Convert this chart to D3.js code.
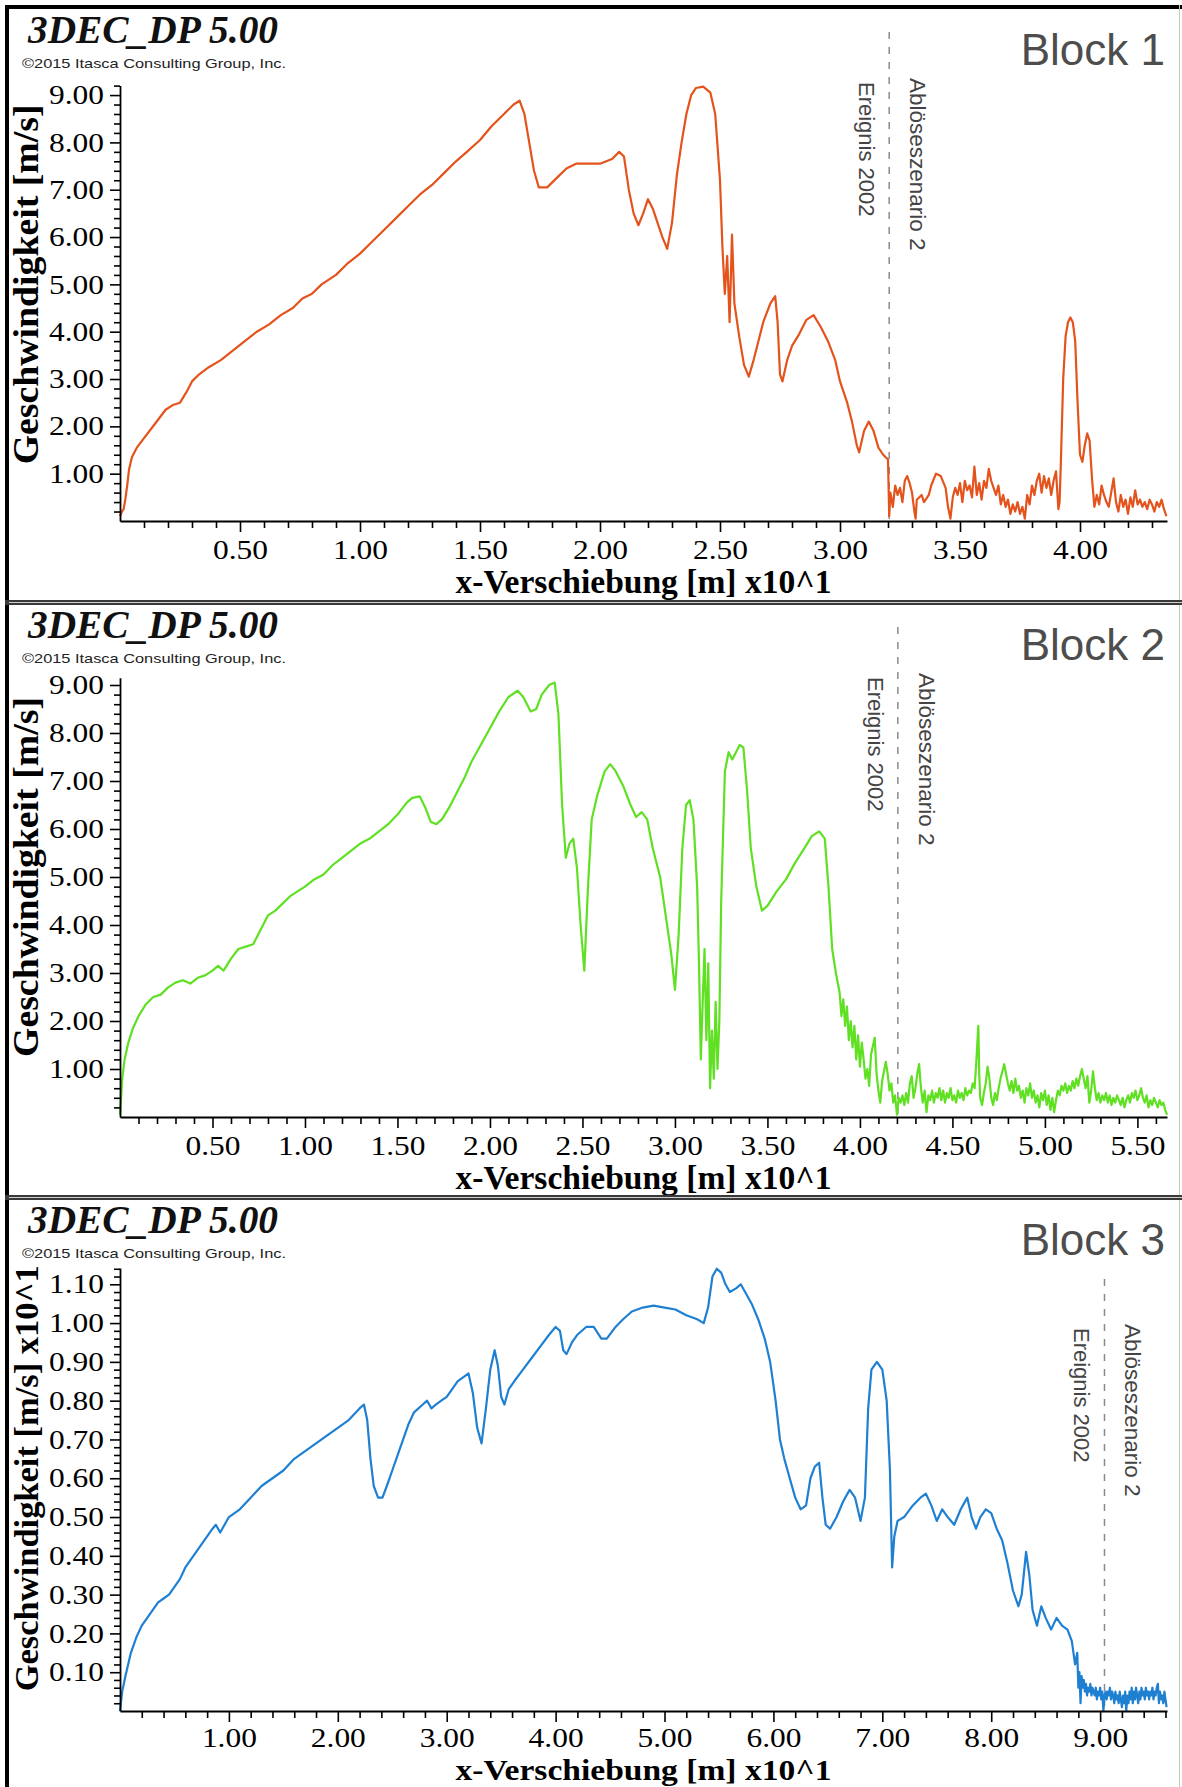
<!DOCTYPE html>
<html><head><meta charset="utf-8">
<script src="https://cdn.jsdelivr.net/npm/d3@7"></script>
<style>body{margin:0;background:#fff}svg{display:block}</style>
</head><body>
<svg id="chart" width="1182" height="1787"></svg>
<script>
// ---------------- DATA ----------------
const softwareTitle = "3DEC_DP 5.00";
const copyrightText = "\u00A92015 Itasca Consulting Group, Inc.";
const blockNames = ["Block 1", "Block 2", "Block 3"];
const xAxisTitle = "x-Verschiebung [m] x10^1";
const yAxisTitles = ["Geschwindigkeit [m/s]", "Geschwindigkeit [m/s]", "Geschwindigkeit [m/s] x10^1"];
const markerLabels = ["Ereignis 2002", "Abl\u00F6seszenario 2"];
const markerX = [3.205, 4.205, 9.04];
const xDomainMax = [4.3625, 5.66, 9.614];
const yDomainMax = [9.2, 9.15, 1.142];
const block1XTicks = [0.5, 1.0, 1.5, 2.0, 2.5, 3.0, 3.5, 4.0];
const block2XTicks = [0.5, 1.0, 1.5, 2.0, 2.5, 3.0, 3.5, 4.0, 4.5, 5.0, 5.5];
const block3XTicks = [1, 2, 3, 4, 5, 6, 7, 8, 9];
const block1YTicks = [1, 2, 3, 4, 5, 6, 7, 8, 9];
const block2YTicks = [1, 2, 3, 4, 5, 6, 7, 8, 9];
const block3YTicks = [0.1, 0.2, 0.3, 0.4, 0.5, 0.6, 0.7, 0.8, 0.9, 1.0, 1.1];
const xMinorSteps = [0.1, 0.1, 0.2];
const yMinorSteps = [0.2, 0.2, 0.02];
const seriesColors = ["#e4531c", "#5fe022", "#1f80d2"];

// x-displacement (x10 m), velocity
const block1Data = [
[0.000,0.10],[0.008,0.20],[0.015,0.25],[0.022,0.45],[0.030,0.75],[0.038,1.10],[0.050,1.35],[0.070,1.55],[0.100,1.75],[0.130,1.95],
[0.160,2.15],[0.190,2.35],[0.220,2.45],[0.250,2.50],[0.280,2.75],[0.300,2.95],[0.330,3.10],[0.370,3.25],[0.420,3.40],[0.470,3.60],
[0.520,3.80],[0.570,4.00],[0.620,4.15],[0.670,4.35],[0.720,4.50],[0.760,4.70],[0.800,4.80],[0.840,5.00],[0.900,5.20],[0.950,5.45],
[1.000,5.65],[1.050,5.90],[1.100,6.15],[1.150,6.40],[1.200,6.65],[1.250,6.90],[1.300,7.10],[1.350,7.35],[1.400,7.60],[1.450,7.82],
[1.500,8.05],[1.550,8.35],[1.600,8.60],[1.640,8.80],[1.665,8.88],[1.685,8.60],[1.705,8.00],[1.725,7.40],[1.745,7.05],[1.780,7.05],
[1.820,7.25],[1.860,7.45],[1.900,7.55],[1.950,7.55],[2.000,7.55],[2.050,7.65],[2.080,7.80],[2.100,7.70],[2.120,7.00],[2.140,6.50],
[2.160,6.25],[2.180,6.50],[2.200,6.80],[2.220,6.60],[2.240,6.30],[2.260,6.00],[2.280,5.75],[2.300,6.30],[2.320,7.30],[2.340,8.00],
[2.360,8.60],[2.380,9.00],[2.400,9.15],[2.430,9.18],[2.460,9.05],[2.480,8.60],[2.500,7.20],[2.510,5.80],[2.520,4.80],[2.530,5.60],
[2.540,4.20],[2.550,6.05],[2.560,4.60],[2.580,3.90],[2.600,3.30],[2.620,3.05],[2.640,3.40],[2.660,3.80],[2.680,4.20],[2.710,4.60],
[2.730,4.75],[2.740,4.20],[2.750,3.10],[2.760,2.95],[2.780,3.40],[2.800,3.70],[2.830,3.95],[2.860,4.25],[2.890,4.35],[2.920,4.10],
[2.950,3.80],[2.980,3.40],[3.000,2.95],[3.030,2.50],[3.050,2.10],[3.070,1.60],[3.080,1.45],[3.100,1.90],[3.120,2.10],[3.140,1.90],
[3.160,1.55],[3.180,1.40],[3.200,1.30],[3.205,0.10],[3.210,0.60],[3.220,0.30],[3.230,0.75],[3.240,0.55],[3.250,0.70],[3.260,0.40],
[3.270,0.85],[3.280,0.95],[3.290,0.80],[3.300,0.60],[3.310,0.20],[3.315,0.05],[3.320,0.45],[3.340,0.55],[3.350,0.40],[3.370,0.55],
[3.380,0.75],[3.400,1.00],[3.420,0.95],[3.440,0.70],[3.450,0.30],[3.460,0.05],[3.470,0.50],[3.480,0.70],[3.490,0.55],[3.500,0.80],
[3.510,0.40],[3.520,0.85],[3.530,0.65],[3.540,0.75],[3.550,0.50],[3.560,1.15],[3.570,0.55],[3.580,0.80],[3.590,0.45],[3.600,0.85],
[3.610,0.70],[3.620,1.10],[3.630,0.85],[3.640,0.70],[3.650,0.55],[3.660,0.75],[3.670,0.35],[3.680,0.55],[3.690,0.30],[3.700,0.45],
[3.710,0.15],[3.720,0.35],[3.730,0.20],[3.740,0.40],[3.750,0.15],[3.760,0.30],[3.770,0.05],[3.780,0.55],[3.790,0.35],[3.800,0.75],
[3.810,0.55],[3.820,0.85],[3.830,1.00],[3.840,0.60],[3.850,0.95],[3.860,0.70],[3.870,0.90],[3.880,0.55],[3.890,0.85],[3.900,1.05],
[3.910,0.25],[3.915,0.40],[3.920,1.20],[3.930,3.00],[3.940,3.90],[3.950,4.20],[3.960,4.30],[3.970,4.20],[3.980,3.80],[3.990,2.50],
[4.000,1.40],[4.010,1.25],[4.020,1.60],[4.030,1.85],[4.040,1.70],[4.050,0.90],[4.060,0.30],[4.070,0.55],[4.080,0.35],[4.090,0.75],
[4.100,0.55],[4.110,0.40],[4.120,0.30],[4.130,0.60],[4.140,0.90],[4.150,0.40],[4.160,0.20],[4.170,0.55],[4.180,0.30],[4.190,0.45],
[4.200,0.15],[4.210,0.50],[4.220,0.30],[4.230,0.65],[4.240,0.35],[4.250,0.45],[4.260,0.30],[4.270,0.40],[4.280,0.25],[4.290,0.45],
[4.300,0.35],[4.310,0.20],[4.320,0.40],[4.330,0.30],[4.340,0.45],[4.350,0.25],[4.360,0.10]
];

const block2Data = [
[0.000,0.05],[0.006,0.40],[0.012,0.80],[0.025,1.20],[0.045,1.55],[0.070,1.85],[0.100,2.10],[0.140,2.35],[0.180,2.50],[0.220,2.55],
[0.260,2.70],[0.300,2.80],[0.340,2.85],[0.380,2.78],[0.420,2.90],[0.460,2.95],[0.500,3.05],[0.530,3.15],[0.560,3.05],[0.600,3.30],
[0.640,3.50],[0.680,3.55],[0.720,3.60],[0.760,3.90],[0.800,4.20],[0.840,4.30],[0.880,4.45],[0.920,4.60],[0.960,4.70],[1.000,4.80],
[1.050,4.95],[1.100,5.05],[1.150,5.25],[1.200,5.40],[1.250,5.55],[1.300,5.70],[1.350,5.80],[1.400,5.95],[1.450,6.10],[1.500,6.30],
[1.550,6.55],[1.580,6.65],[1.620,6.68],[1.650,6.45],[1.680,6.15],[1.710,6.10],[1.740,6.20],[1.780,6.45],[1.820,6.75],[1.860,7.05],
[1.900,7.40],[1.950,7.75],[2.000,8.10],[2.050,8.45],[2.100,8.75],[2.150,8.88],[2.180,8.75],[2.220,8.45],[2.250,8.50],[2.280,8.80],
[2.320,9.00],[2.350,9.05],[2.370,8.40],[2.390,6.50],[2.410,5.40],[2.430,5.70],[2.450,5.80],[2.470,5.20],[2.490,4.00],[2.510,3.05],
[2.530,4.80],[2.550,6.20],[2.580,6.70],[2.620,7.20],[2.650,7.35],[2.680,7.20],[2.720,6.90],[2.760,6.50],[2.790,6.25],[2.820,6.35],
[2.850,6.20],[2.880,5.60],[2.920,5.00],[2.950,4.20],[2.980,3.40],[3.000,2.65],[3.020,3.80],[3.040,5.60],[3.060,6.50],[3.080,6.60],
[3.100,6.20],[3.120,4.80],[3.130,3.20],[3.140,1.20],[3.150,2.40],[3.160,3.50],[3.170,1.60],[3.180,3.20],[3.190,0.60],[3.200,1.80],
[3.210,0.80],[3.220,2.40],[3.230,1.00],[3.240,2.00],[3.250,4.50],[3.270,7.20],[3.290,7.60],[3.310,7.45],[3.330,7.60],[3.350,7.75],
[3.370,7.70],[3.390,6.80],[3.410,5.60],[3.440,4.80],[3.470,4.30],[3.500,4.40],[3.550,4.70],[3.600,4.95],[3.650,5.30],[3.700,5.60],
[3.740,5.85],[3.780,5.95],[3.810,5.80],[3.830,4.80],[3.850,3.50],[3.870,3.00],[3.890,2.60],[3.900,2.10],[3.910,2.45],[3.920,1.90],
[3.930,2.30],[3.940,1.60],[3.950,2.00],[3.960,1.45],[3.970,1.90],[3.980,1.20],[3.990,1.70],[4.000,1.05],[4.010,1.55],[4.020,1.20],
[4.030,0.80],[4.040,1.00],[4.050,0.65],[4.060,1.30],[4.080,1.65],[4.090,0.90],[4.100,0.55],[4.110,0.30],[4.120,0.75],[4.140,1.15],
[4.150,0.90],[4.160,0.55],[4.170,0.70],[4.180,0.30],[4.190,0.45],[4.200,0.05],[4.210,0.40],[4.220,0.30],[4.230,0.45],[4.240,0.25],
[4.250,0.50],[4.260,0.30],[4.270,0.70],[4.280,0.85],[4.290,0.40],[4.300,0.60],[4.310,0.90],[4.320,1.10],[4.330,0.60],[4.340,0.30],
[4.350,0.55],[4.360,0.10],[4.370,0.45],[4.380,0.35],[4.390,0.55],[4.400,0.30],[4.410,0.50],[4.420,0.40],[4.430,0.60],[4.440,0.35],
[4.450,0.55],[4.460,0.30],[4.470,0.50],[4.480,0.40],[4.490,0.60],[4.500,0.35],[4.510,0.45],[4.520,0.30],[4.530,0.55],[4.540,0.40],
[4.550,0.50],[4.560,0.35],[4.570,0.60],[4.580,0.45],[4.590,0.55],[4.600,0.50],[4.610,0.70],[4.620,0.60],[4.630,1.20],[4.640,1.90],
[4.645,0.90],[4.650,0.40],[4.660,0.25],[4.670,0.50],[4.680,0.70],[4.690,1.05],[4.700,0.80],[4.710,0.40],[4.720,0.25],[4.730,0.50],
[4.740,0.35],[4.750,0.60],[4.760,0.80],[4.770,0.95],[4.780,1.10],[4.790,0.90],[4.800,0.70],[4.810,0.55],[4.820,0.75],[4.830,0.50],
[4.840,0.80],[4.850,0.55],[4.860,0.65],[4.870,0.40],[4.880,0.55],[4.890,0.30],[4.900,0.60],[4.910,0.45],[4.920,0.70],[4.930,0.40],
[4.940,0.55],[4.950,0.30],[4.960,0.45],[4.970,0.20],[4.980,0.50],[4.990,0.35],[5.000,0.55],[5.010,0.25],[5.020,0.45],[5.030,0.15],
[5.040,0.40],[5.050,0.10],[5.060,0.35],[5.070,0.55],[5.080,0.45],[5.090,0.65],[5.100,0.55],[5.110,0.70],[5.120,0.50],[5.130,0.65],
[5.140,0.55],[5.150,0.75],[5.160,0.60],[5.170,0.80],[5.180,0.65],[5.190,0.85],[5.200,1.00],[5.210,0.80],[5.220,0.60],[5.230,0.85],
[5.240,0.30],[5.250,0.55],[5.260,0.95],[5.270,0.60],[5.280,0.35],[5.290,0.50],[5.300,0.30],[5.310,0.45],[5.320,0.35],[5.330,0.50],
[5.340,0.30],[5.350,0.45],[5.360,0.25],[5.370,0.40],[5.380,0.30],[5.390,0.45],[5.400,0.35],[5.410,0.25],[5.420,0.40],[5.430,0.20],
[5.440,0.35],[5.450,0.45],[5.460,0.30],[5.470,0.50],[5.480,0.40],[5.490,0.55],[5.500,0.35],[5.510,0.45],[5.520,0.60],[5.530,0.40],
[5.540,0.30],[5.550,0.45],[5.560,0.20],[5.570,0.35],[5.580,0.25],[5.590,0.40],[5.600,0.30],[5.610,0.20],[5.620,0.35],[5.630,0.25],
[5.640,0.30],[5.650,0.15],[5.660,0.05]
];

const block3Data = [
[0.00,0.000],[0.02,0.050],[0.05,0.090],[0.10,0.150],[0.15,0.190],[0.20,0.220],[0.25,0.240],[0.30,0.260],[0.35,0.280],[0.40,0.290],
[0.45,0.300],[0.50,0.320],[0.55,0.340],[0.60,0.370],[0.65,0.390],[0.70,0.410],[0.75,0.430],[0.80,0.450],[0.85,0.470],[0.88,0.480],
[0.92,0.460],[0.96,0.480],[1.00,0.500],[1.10,0.520],[1.20,0.550],[1.30,0.580],[1.40,0.600],[1.50,0.620],[1.60,0.650],[1.70,0.670],
[1.80,0.690],[1.90,0.710],[2.00,0.730],[2.10,0.750],[2.20,0.780],[2.24,0.790],[2.27,0.750],[2.30,0.650],[2.33,0.580],[2.37,0.550],
[2.41,0.550],[2.45,0.580],[2.50,0.620],[2.55,0.660],[2.60,0.700],[2.65,0.740],[2.70,0.770],[2.78,0.790],[2.82,0.800],[2.86,0.780],
[2.90,0.790],[2.95,0.800],[3.00,0.810],[3.05,0.830],[3.10,0.850],[3.15,0.860],[3.20,0.870],[3.24,0.820],[3.28,0.730],[3.32,0.690],
[3.36,0.780],[3.40,0.880],[3.44,0.930],[3.47,0.890],[3.50,0.810],[3.53,0.790],[3.57,0.830],[3.62,0.850],[3.70,0.880],[3.78,0.910],
[3.86,0.940],[3.94,0.970],[4.00,0.990],[4.04,0.980],[4.07,0.930],[4.10,0.920],[4.15,0.950],[4.20,0.970],[4.28,0.990],[4.35,0.990],
[4.42,0.960],[4.47,0.960],[4.55,0.990],[4.62,1.010],[4.70,1.030],[4.80,1.040],[4.90,1.045],[5.00,1.040],[5.10,1.035],[5.20,1.020],
[5.30,1.010],[5.36,1.000],[5.40,1.040],[5.44,1.120],[5.48,1.140],[5.52,1.130],[5.56,1.100],[5.60,1.080],[5.66,1.090],[5.70,1.100],
[5.74,1.080],[5.80,1.050],[5.86,1.010],[5.92,0.960],[5.97,0.900],[6.02,0.800],[6.06,0.700],[6.10,0.650],[6.15,0.600],[6.20,0.550],
[6.25,0.520],[6.30,0.530],[6.34,0.600],[6.38,0.630],[6.42,0.640],[6.45,0.550],[6.48,0.480],[6.52,0.470],[6.58,0.500],[6.64,0.540],
[6.70,0.570],[6.75,0.550],[6.80,0.490],[6.84,0.550],[6.87,0.780],[6.90,0.880],[6.95,0.900],[7.00,0.880],[7.04,0.800],[7.07,0.620],
[7.09,0.370],[7.11,0.450],[7.14,0.490],[7.20,0.500],[7.28,0.530],[7.35,0.550],[7.40,0.560],[7.45,0.530],[7.50,0.490],[7.55,0.520],
[7.60,0.500],[7.66,0.480],[7.72,0.520],[7.78,0.550],[7.82,0.500],[7.86,0.470],[7.90,0.500],[7.95,0.520],[8.00,0.510],[8.05,0.470],
[8.10,0.440],[8.15,0.380],[8.20,0.310],[8.25,0.270],[8.28,0.300],[8.32,0.410],[8.35,0.350],[8.38,0.260],[8.42,0.220],[8.46,0.270],
[8.50,0.240],[8.55,0.210],[8.60,0.240],[8.65,0.220],[8.70,0.210],[8.74,0.180],[8.77,0.120],[8.79,0.150],[8.80,0.060],[8.81,0.100],
[8.82,0.020],[8.83,0.090],[8.84,0.060],[8.85,0.080],[8.86,0.050],[8.87,0.070],[8.88,0.040],[8.89,0.060],[8.90,0.050],[8.91,0.070],
[8.92,0.040],[8.93,0.060],[8.94,0.050],[8.95,0.040],[8.96,0.060],[8.97,0.030],[8.98,0.050],[8.99,0.040],[9.00,0.060],[9.01,0.030],
[9.02,0.050],[9.03,0.000],[9.04,0.040],[9.05,0.050],[9.06,0.030],[9.07,0.050],[9.08,0.040],[9.09,0.060],[9.10,0.030],[9.11,0.050],
[9.12,0.040],[9.13,0.020],[9.14,0.050],[9.15,0.030],[9.16,0.040],[9.17,0.020],[9.18,0.050],[9.19,0.030],[9.20,0.010],[9.21,0.040],
[9.22,0.020],[9.23,0.050],[9.24,0.000],[9.25,0.040],[9.26,0.020],[9.27,0.050],[9.28,0.030],[9.29,0.060],[9.30,0.020],[9.31,0.050],
[9.32,0.030],[9.33,0.060],[9.34,0.040],[9.35,0.020],[9.36,0.050],[9.37,0.030],[9.38,0.060],[9.39,0.040],[9.40,0.050],[9.41,0.030],
[9.42,0.060],[9.43,0.040],[9.44,0.050],[9.45,0.030],[9.46,0.050],[9.47,0.040],[9.48,0.060],[9.49,0.030],[9.50,0.050],[9.51,0.040],
[9.52,0.060],[9.53,0.070],[9.54,0.020],[9.55,0.050],[9.56,0.030],[9.57,0.040],[9.58,0.020],[9.59,0.050],[9.60,0.030],[9.61,0.010]
];

// ---------------- CHART ----------------
const W = 1182, H = 1787;
const svg = d3.select("#chart");
svg.append("rect").attr("width", W).attr("height", H).attr("fill", "#fff");

const serif = "'Liberation Serif','Times New Roman',serif";
const sans = "'Liberation Sans',Arial,sans-serif";

const panels = [
  {data: block1Data, xTicks: block1XTicks, yTicks: block1YTicks},
  {data: block2Data, xTicks: block2XTicks, yTicks: block2YTicks},
  {data: block3Data, xTicks: block3XTicks, yTicks: block3YTicks}
].map((p, i) => Object.assign(p, {
  name: blockNames[i], yTitle: yAxisTitles[i], color: seriesColors[i],
  xMax: xDomainMax[i], yMax: yDomainMax[i], xMinor: xMinorSteps[i], yMinor: yMinorSteps[i], marker: markerX[i]
}));

const layout = [
  {top: 7, plotTop: 85.6, axisY: 521, markTop: 25, labTop: 75, xTitleDy: 72, xTitleSize: 33, xTickPad: 8, yTitleLen: 360, yTitleSize: 36},
  {top: 602, plotTop: 677.8, axisY: 1117, markTop: 25, labTop: 75, xTitleDy: 72, xTitleSize: 33, xTickPad: 8, yTitleLen: 360, yTitleSize: 36},
  {top: 1197, plotTop: 1268, axisY: 1711, markTop: 82, labTop: 131, xTitleDy: 69, xTitleSize: 30, xTickPad: 6, yTitleLen: 426, yTitleSize: 34}
];
const plotLeft = 120, plotRight = 1167;

function minorTicks(max, step, majors) {
  const out = [];
  const n = Math.floor(max / step + 1e-6);
  for (let k = 1; k <= n; k++) {
    const v = +(k * step).toFixed(4);
    if (!majors.some(m => Math.abs(m - v) < 1e-6)) out.push(v);
  }
  return out;
}

panels.forEach((p, i) => {
  const L = layout[i];
  const g = svg.append("g");
  const x = d3.scaleLinear().domain([0, p.xMax]).range([plotLeft, plotRight]);
  const y = d3.scaleLinear().domain([0, p.yMax]).range([L.axisY, L.plotTop]);

  // header texts
  g.append("text").attr("x", 28).attr("y", L.top + 36)
    .attr("font-family", serif).attr("font-weight", "bold").attr("font-style", "italic")
    .attr("font-size", 40).attr("textLength", 250).attr("lengthAdjust", "spacingAndGlyphs")
    .attr("fill", "#111").text(softwareTitle);
  g.append("text").attr("x", 22).attr("y", L.top + 61)
    .attr("font-family", sans).attr("font-size", 13.5).attr("textLength", 264).attr("lengthAdjust", "spacingAndGlyphs")
    .attr("fill", "#222").text(copyrightText);
  g.append("text").attr("x", 1165).attr("y", L.top + 58).attr("text-anchor", "end")
    .attr("font-family", sans).attr("font-size", 44).attr("fill", "#4d4d4d").text(p.name);

  // marker line + labels
  const mx = x(p.marker);
  g.append("line").attr("x1", mx).attr("x2", mx).attr("y1", L.top + L.markTop).attr("y2", L.axisY)
    .attr("stroke", "#8a8a8a").attr("stroke-width", 1.5).attr("stroke-dasharray", "7,8");
  g.append("text").attr("transform", `translate(${mx - 30},${L.top + L.labTop}) rotate(90)`)
    .attr("font-family", sans).attr("font-size", 22).attr("fill", "#444").text(markerLabels[0]);
  g.append("text").attr("transform", `translate(${mx + 21},${L.top + L.labTop - 4}) rotate(90)`)
    .attr("font-family", sans).attr("font-size", 22.5).attr("fill", "#444").text(markerLabels[1]);

  // curve
  const line = d3.line().x(d => x(d[0])).y(d => y(d[1]));
  g.append("path").datum(p.data).attr("d", line).attr("fill", "none")
    .attr("stroke", p.color).attr("stroke-width", 2.2).attr("stroke-linejoin", "round");

  // axes
  const fmt = d3.format(".2f");
  const xMinorVals = minorTicks(p.xMax, p.xMinor, p.xTicks);
  const yMinorVals = minorTicks(p.yMax, p.yMinor, p.yTicks);

  const xMinorG = g.append("g").attr("transform", `translate(0,${L.axisY})`)
    .call(d3.axisBottom(x).tickValues(xMinorVals).tickSize(7).tickSizeOuter(0).tickFormat(""));
  xMinorG.select(".domain").remove();
  const yMinorG = g.append("g").attr("transform", `translate(${plotLeft},0)`)
    .call(d3.axisLeft(y).tickValues(yMinorVals).tickSize(6).tickSizeOuter(0).tickFormat(""));
  yMinorG.select(".domain").remove();

  const xAxisG = g.append("g").attr("transform", `translate(0,${L.axisY})`)
    .call(d3.axisBottom(x).tickValues(p.xTicks).tickSize(11).tickSizeOuter(0).tickPadding(L.xTickPad).tickFormat(fmt));
  const yAxisG = g.append("g").attr("transform", `translate(${plotLeft},0)`)
    .call(d3.axisLeft(y).tickValues(p.yTicks).tickSize(10).tickSizeOuter(0).tickPadding(6).tickFormat(fmt));

  [xMinorG, yMinorG, xAxisG, yAxisG].forEach(a => {
    a.selectAll("line").attr("stroke", "#000").attr("stroke-width", 1.6);
    a.selectAll(".domain").attr("stroke", "#000").attr("stroke-width", 1.8);
  });
  [xAxisG, yAxisG].forEach(a => {
    a.selectAll("text").attr("font-family", serif).attr("font-size", 27).attr("fill", "#000")
      .attr("textLength", 55).attr("lengthAdjust", "spacingAndGlyphs");
  });

  // axis titles
  g.append("text").attr("x", (plotLeft + plotRight) / 2).attr("y", L.axisY + L.xTitleDy).attr("text-anchor", "middle")
    .attr("font-family", serif).attr("font-weight", "bold").attr("font-size", L.xTitleSize)
    .attr("textLength", 376).attr("lengthAdjust", "spacingAndGlyphs")
    .attr("fill", "#000").text(xAxisTitle);
  const yc = (y(p.yTicks[0]) + y(p.yTicks[p.yTicks.length - 1])) / 2;
  g.append("text").attr("transform", `translate(38,${yc}) rotate(-90)`).attr("text-anchor", "middle")
    .attr("font-family", serif).attr("font-weight", "bold").attr("font-size", L.yTitleSize)
    .attr("textLength", L.yTitleLen).attr("lengthAdjust", "spacingAndGlyphs")
    .attr("fill", "#000").text(p.yTitle);
});

// frame
const frame = svg.append("g");
frame.append("rect").attr("x", 5).attr("y", 5).attr("width", W - 5).attr("height", 4).attr("fill", "#000");
frame.append("rect").attr("x", 5).attr("y", 5).attr("width", 4).attr("height", H - 5).attr("fill", "#000");
frame.append("line").attr("x1", W - 2.5).attr("x2", W - 2.5).attr("y1", 5).attr("y2", H).attr("stroke", "#c8c8c8").attr("stroke-width", 1);
[600, 1195].forEach(sy => {
  frame.append("rect").attr("x", 5).attr("y", sy).attr("width", W - 5).attr("height", 5).attr("fill", "#3a3a3a");
  frame.append("rect").attr("x", 9).attr("y", sy + 2).attr("width", W - 9).attr("height", 1).attr("fill", "#cfcfcf");
});
</script>
</body></html>
